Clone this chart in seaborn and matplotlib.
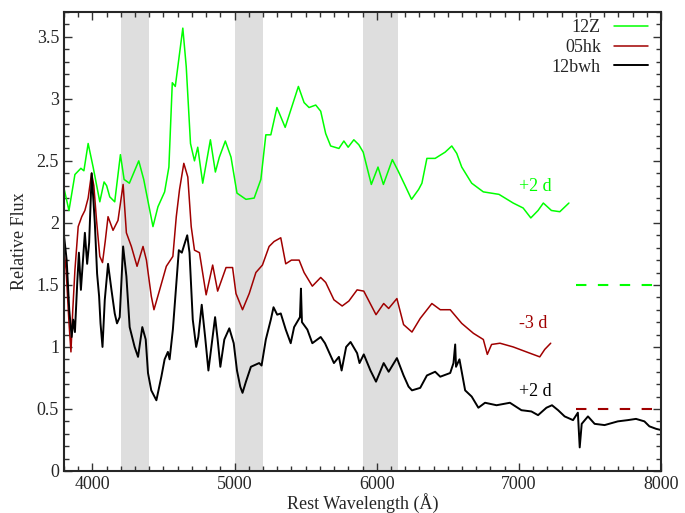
import numpy as np
import pandas as pd
import matplotlib
matplotlib.use("Agg")
import matplotlib.pyplot as plt
from matplotlib.ticker import MultipleLocator, FuncFormatter
import seaborn as sns

# spectra (rest wavelength in A, relative flux)
wave_12z = [3800, 3835, 3877, 3919, 3940, 3970, 4005, 4052, 4082, 4100, 4122, 4157,
            4197, 4223, 4260, 4326, 4361, 4426, 4461, 4508, 4538, 4562, 4583, 4636,
            4660, 4690, 4718, 4741, 4776, 4830, 4865, 4893, 4935, 4975, 5017, 5080,
            5138, 5185, 5220, 5255, 5298, 5356, 5449, 5489, 5524, 5571, 5606, 5641,
            5676, 5734, 5769, 5799, 5839, 5874, 5905, 5962, 6009, 6047, 6110, 6150,
            6200, 6245, 6295, 6318, 6353, 6411, 6481, 6528, 6563, 6598, 6668, 6750,
            6860, 6960, 7030, 7084, 7135, 7172, 7229, 7288, 7352]
flux_12z = [2.28, 2.10, 2.39, 2.44, 2.42, 2.64, 2.45, 2.17, 2.33, 2.30, 2.21, 2.17,
            2.55, 2.35, 2.32, 2.50, 2.35, 1.97, 2.13, 2.25, 2.45, 3.13, 3.10, 3.57,
            3.26, 2.64, 2.50, 2.61, 2.32, 2.67, 2.41, 2.53, 2.66, 2.53, 2.24, 2.19,
            2.20, 2.35, 2.71, 2.71, 2.93, 2.77, 3.10, 2.97, 2.93, 2.95, 2.90, 2.72,
            2.62, 2.60, 2.66, 2.61, 2.67, 2.63, 2.57, 2.31, 2.45, 2.31, 2.51, 2.42,
            2.30, 2.19, 2.27, 2.32, 2.52, 2.52, 2.57, 2.62, 2.56, 2.45, 2.32, 2.25,
            2.23, 2.16, 2.12, 2.04, 2.10, 2.16, 2.10, 2.09, 2.16]

wave_05hk = [3800, 3815, 3835, 3849, 3862, 3877, 3900, 3925, 3947, 3970, 3994, 4010,
             4029, 4052, 4071, 4090, 4110, 4145, 4180, 4216, 4239, 4274, 4314, 4340,
             4356, 4380, 4414, 4433, 4473, 4520, 4566, 4590, 4613, 4643, 4671, 4695,
             4718, 4753, 4800, 4846, 4881, 4940, 4986, 5010, 5056, 5103, 5150, 5196,
             5243, 5278, 5325, 5360, 5400, 5454, 5489, 5547, 5606, 5641, 5699, 5757,
             5804, 5862, 5909, 5995, 6049, 6084, 6142, 6189, 6248, 6306, 6388, 6447,
             6517, 6598, 6680, 6750, 6778, 6808, 6867, 6960, 7053, 7100, 7147, 7182,
             7224]
flux_05hk = [1.78, 1.62, 1.20, 0.96, 1.30, 1.62, 1.97, 2.05, 2.10, 2.20, 2.40, 2.30,
             2.02, 1.73, 1.68, 1.85, 2.05, 1.94, 2.02, 2.31, 1.92, 1.81, 1.65, 1.75,
             1.81, 1.70, 1.41, 1.30, 1.46, 1.65, 1.73, 2.05, 2.27, 2.48, 2.37, 1.97,
             1.78, 1.76, 1.42, 1.66, 1.45, 1.64, 1.64, 1.43, 1.30, 1.43, 1.60, 1.66,
             1.81, 1.85, 1.88, 1.67, 1.70, 1.70, 1.60, 1.49, 1.56, 1.52, 1.38, 1.33,
             1.37, 1.46, 1.45, 1.26, 1.35, 1.31, 1.39, 1.18, 1.12, 1.23, 1.35, 1.30,
             1.30, 1.19, 1.11, 1.06, 0.94, 1.02, 1.03, 1.00, 0.96, 0.94, 0.92, 0.98,
             1.03]

wave_12bwh = [3800, 3819, 3837, 3854, 3865, 3877, 3893, 3905, 3919, 3947, 3963, 3977,
              3995, 4017, 4033, 4047, 4057, 4071, 4087, 4110, 4134, 4157, 4173, 4192,
              4216, 4239, 4262, 4297, 4321, 4351, 4375, 4391, 4414, 4450, 4485, 4508,
              4531, 4543, 4566, 4590, 4608, 4629, 4667, 4683, 4706, 4730, 4745, 4769,
              4793, 4816, 4840, 4863, 4881, 4900, 4928, 4963, 4994, 5017, 5040, 5056,
              5080, 5115, 5173, 5190, 5220, 5255, 5274, 5300, 5325, 5360, 5395, 5419,
              5460, 5467, 5474, 5512, 5547, 5606, 5636, 5699, 5734, 5753, 5785, 5816,
              5862, 5879, 5909, 5956, 5995, 6049, 6084, 6142, 6189, 6224, 6248, 6306,
              6353, 6411, 6447, 6517, 6540, 6552, 6558, 6582, 6622, 6668, 6715, 6762,
              6843, 6937, 7018, 7088, 7135, 7194, 7233, 7276, 7322, 7381, 7415, 7428,
              7442, 7486, 7533, 7603, 7696, 7766, 7824, 7883, 7918, 7965, 8000]
flux_12bwh = [1.90, 1.70, 1.30, 1.08, 1.22, 1.12, 1.51, 1.76, 1.46, 1.92, 1.67, 1.84,
              2.40, 2.00, 1.59, 1.41, 1.19, 1.00, 1.38, 1.67, 1.46, 1.27, 1.19, 1.24,
              1.81, 1.57, 1.16, 1.00, 0.92, 1.16, 1.06, 0.79, 0.65, 0.57, 0.76, 0.90,
              0.96, 0.90, 1.14, 1.51, 1.78, 1.76, 1.90, 1.76, 1.22, 1.00, 1.08, 1.34,
              1.08, 0.81, 1.03, 1.24, 1.06, 0.84, 1.06, 1.15, 1.03, 0.81, 0.68, 0.63,
              0.72, 0.84, 0.87, 0.85, 1.06, 1.22, 1.32, 1.26, 1.27, 1.14, 1.03, 1.16,
              1.24, 1.47, 1.20, 1.14, 1.03, 1.08, 1.03, 0.87, 0.92, 0.81, 1.00, 1.04,
              0.95, 0.87, 0.94, 0.81, 0.72, 0.87, 0.80, 0.91, 0.77, 0.68, 0.65, 0.67,
              0.77, 0.80, 0.76, 0.79, 0.87, 1.02, 0.84, 0.90, 0.65, 0.60, 0.51, 0.55,
              0.53, 0.55, 0.49, 0.48, 0.45, 0.51, 0.53, 0.49, 0.44, 0.41, 0.47, 0.19,
              0.38, 0.44, 0.38, 0.37, 0.40, 0.41, 0.42, 0.40, 0.36, 0.34, 0.33]

names = ["12Z", "05hk", "12bwh"]
colors = ["#00ff00", "#a00000", "#000000"]
widths = [1.1, 1.1, 1.4]
phases = ["+2 d", "-3 d", "+2 d"]
phase_pos = [(7000, 2.29), (7000, 1.19), (7000, 0.64)]

bands = [(4200, 4400), (5000, 5200), (5900, 6150)]
zero_levels = [1.5, 0.5]   # offsets for 12Z and 05hk
zero_start = 7400

sns.set_style("ticks")
plt.rcParams["font.family"] = ["Liberation Serif", "DejaVu Serif"]

fig = plt.figure(figsize=(6.85, 5.13), dpi=100)
ax = fig.add_axes([0.0934, 0.0819, 0.8716, 0.8947])

for lo, hi in bands:
    ax.axvspan(lo, hi, color="#dedede", lw=0, zorder=0)

data = [(wave_12z, flux_12z), (wave_05hk, flux_05hk), (wave_12bwh, flux_12bwh)]
for (w, f), name, c, lw in zip(data, names, colors, widths):
    df = pd.DataFrame({"wave": w, "flux": f})
    sns.lineplot(data=df, x="wave", y="flux", color=c, lw=lw, label=name,
                 sort=False, estimator=None, ax=ax)

for lvl, c in zip(zero_levels, colors[:2]):
    ax.plot([zero_start, 8000], [lvl, lvl], color=c, lw=1.5, dashes=(5, 5.5))

for (x, y), txt, c in zip(phase_pos, phases, colors):
    ax.text(x, y, txt, color=c, fontsize=13, va="center", ha="left")

ax.set_xlim(3800, 8000)
ax.set_ylim(0, 3.7)
ax.xaxis.set_major_locator(MultipleLocator(1000))
ax.xaxis.set_minor_locator(MultipleLocator(100))
ax.yaxis.set_major_locator(MultipleLocator(0.5))
ax.yaxis.set_minor_locator(MultipleLocator(0.1))
ax.yaxis.set_major_formatter(FuncFormatter(lambda v, p: f"{v:g}"))
ax.tick_params(which="both", direction="in", top=True, right=True,
               labelsize=13, color="#333333")
ax.tick_params(which="major", length=6, width=1)
ax.tick_params(which="minor", length=3.5, width=1)
for s in ax.spines.values():
    s.set_linewidth(1.5)

ax.set_xlabel("Rest Wavelength (Å)", fontsize=13, labelpad=0)
ax.set_ylabel("Relative Flux", fontsize=13, labelpad=6)

ax.legend(loc="upper right", bbox_to_anchor=(0.99, 1.0), frameon=False,
          markerfirst=False, fontsize=13, handlelength=1.9, labelspacing=0.15,
          handletextpad=0.7, borderaxespad=0.1, borderpad=0.3)

fig.savefig("out.png", dpi=100)
